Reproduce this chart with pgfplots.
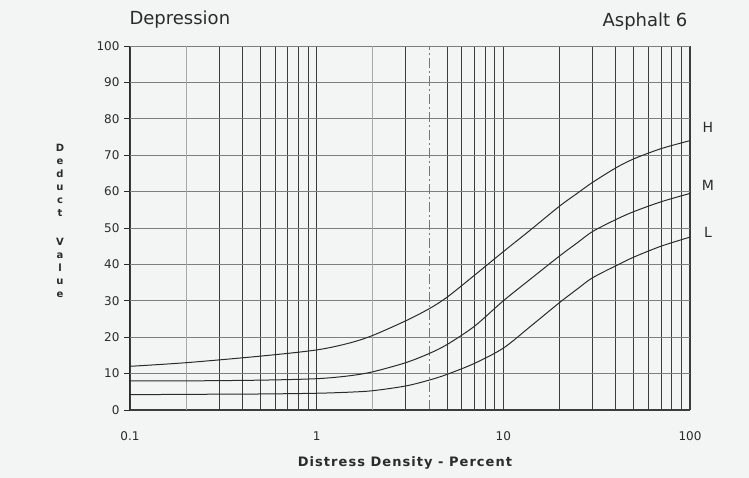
\documentclass[border=0pt]{standalone}
\usepackage{fontspec}
\setmainfont{DejaVu Sans}
\usepackage{pgfplots}
\pgfplotsset{compat=1.18}
\definecolor{ink}{HTML}{2B2B2B}
\definecolor{paper}{HTML}{F3F4F4}
\definecolor{gridv}{HTML}{3C3C3C}
\definecolor{gridh}{HTML}{7E7E7E}

\pgfplotstableread{
x     H     M     L
0.1   12    8     4.2
0.2   13    8     4.3
0.5   14.8  8.2   4.4
1     16.5  8.6   4.6
1.5   18.4  9.4   4.9
2     20.5  10.5  5.3
3     24.5  13    6.6
4     27.8  15.5  8.2
5     31    18    9.8
7     37    23    12.8
10    43.5  30    17
14    49.5  36    23
20    56    42.3  29.5
25    59.6  46    33.3
30    62.5  49    36.3
40    66.5  52.3  39.6
50    69    54.5  42
70    71.8  57.2  45
100   74    59.5  47.5
}\curves

\begin{document}
\begin{tikzpicture}[x=1pt,y=1pt]
\fill[paper] (-130,-68) rectangle (619,410);
\path[use as bounding box] (-130,-68) rectangle (619,410);
\begin{axis}[
  at={(0,0)}, anchor=south west, scale only axis,
  width=560pt, height=364pt,
  xmode=log, xmin=0.1, xmax=100, ymin=0, ymax=100,
  xtick={0.1,1,10,100}, xticklabels={0.1,1,10,100},
  minor xtick={0.3,0.4,0.5,0.6,0.7,0.8,0.9,3,5,6,7,8,9,20,30,40,50,60,70,80,90},
  ytick={0,10,...,100},
  yticklabels={0,10,20,30,40,50,60,70,80,90,100},
  extra x ticks={4}, extra x tick labels={},
  extra x tick style={grid=major, major grid style={gridv!70, line width=0.8pt, dash pattern=on 10pt off 3pt on 2pt off 3pt}},
  xmajorgrids, xminorgrids, ymajorgrids,
  major grid style={gridv, line width=1.1pt},
  minor grid style={gridv, line width=1.1pt},
  every axis y grid/.style={gridh, line width=0.8pt},
  axis x line=bottom, x axis line style={draw=none},
  axis y line=left, y axis line style={-, ink, line width=1pt},
  ytick style={ink, line width=0.8pt}, tick align=outside, major tick length=6pt,
  xtick style={draw=none}, minor tick length=0pt,
  /pgf/number format/assume math mode=true,
  tick label style={font=\fontsize{12}{14}\selectfont, text=ink},
  yticklabel style={xshift=-1pt},
  xticklabel style={yshift=-12pt},
  clip=false,
]
\draw[gridv, line width=1.1pt] (axis cs:0.1,0) -- (axis cs:100,0);
\draw[gridv!45, line width=0.9pt] (axis cs:0.2,0) -- (axis cs:0.2,100);
\draw[gridv!45, line width=0.9pt] (axis cs:2,0) -- (axis cs:2,100);
\addplot[ink, line width=1pt, smooth] table[x=x, y=H] {\curves};
\addplot[ink, line width=1pt, smooth] table[x=x, y=M] {\curves};
\addplot[ink, line width=1pt, smooth] table[x=x, y=L] {\curves};
\end{axis}
\node[anchor=west, text=ink, font=\fontsize{18}{20}\selectfont] at (-4,390) {Depression};
\node[anchor=center, text=ink, font=\fontsize{18}{20}\selectfont] at (515,388) {Asphalt 6};
\node[text=ink, font=\fontsize{14}{16}\selectfont] at (578,283) {H};
\node[text=ink, font=\fontsize{14}{16}\selectfont] at (578,225) {M};
\node[text=ink, font=\fontsize{14}{16}\selectfont] at (578,178) {L};
\node[text=ink, align=center, font=\fontsize{10}{13}\selectfont\bfseries] at (-70,230) {D\\e\\d\\u\\c\\t};
\node[text=ink, align=center, font=\fontsize{10}{13}\selectfont\bfseries] at (-70,142) {V\\a\\l\\u\\e};
\node[text=ink, font=\fontsize{13}{16}\selectfont\bfseries\addfontfeature{LetterSpace=8}] at (275,-53) {Distress Density - Percent};
\end{tikzpicture}
\end{document}
